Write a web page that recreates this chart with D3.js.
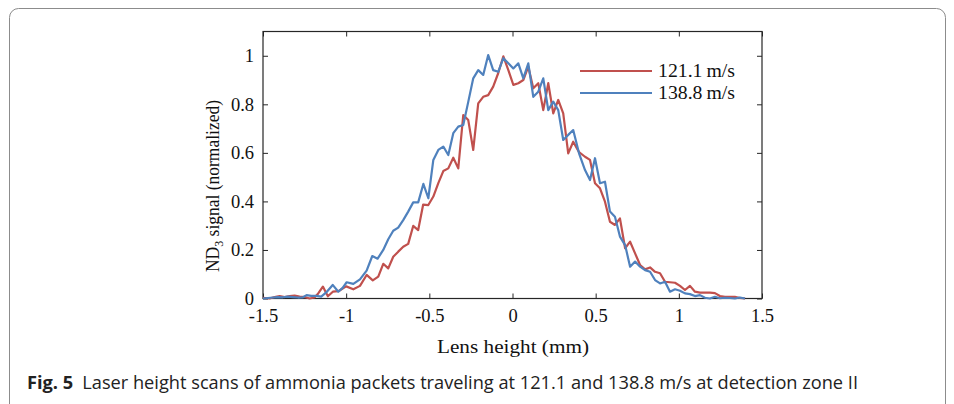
<!DOCTYPE html>
<html>
<head>
<meta charset="utf-8">
<script src="https://cdn.jsdelivr.net/npm/d3@7/dist/d3.min.js"></script>
<style>
  html, body { margin: 0; padding: 0; background: #fff; }
  svg { display: block; }
</style>
</head>
<body>
<svg id="fig" width="954" height="404"></svg>
<script>
// Lens height scan positions (mm) and normalized ND3 signal for each packet speed
const redX = [-1.50,-1.46,-1.43,-1.40,-1.37,-1.34,-1.31,-1.28,-1.25,-1.22,-1.19,-1.168,-1.14,-1.11,-1.08,-1.047,-1.00,-0.957,-0.917,-0.877,-0.84,-0.807,-0.777,-0.747,-0.717,-0.687,-0.657,-0.627,-0.597,-0.567,-0.537,-0.506,-0.476,-0.446,-0.416,-0.386,-0.356,-0.326,-0.296,-0.266,-0.236,-0.206,-0.176,-0.146,-0.116,-0.086,-0.055,-0.025,0.005,0.035,0.065,0.095,0.125,0.155,0.185,0.215,0.245,0.275,0.305,0.335,0.365,0.40,0.436,0.466,0.496,0.526,0.556,0.586,0.616,0.646,0.677,0.707,0.737,0.767,0.797,0.827,0.857,0.887,0.917,0.947,0.977,1.007,1.037,1.067,1.097,1.127,1.157,1.187,1.217,1.247,1.277,1.307,1.337,1.367,1.398];
const redY = [0.003,0.0,0.006,0.010,0.006,0.010,0.012,0.008,0.006,0.0,0.004,0.021,0.049,0.009,0.028,0.030,0.050,0.038,0.052,0.097,0.075,0.090,0.143,0.124,0.172,0.193,0.213,0.225,0.299,0.282,0.387,0.385,0.420,0.475,0.525,0.536,0.580,0.536,0.756,0.735,0.612,0.804,0.831,0.838,0.873,0.928,0.998,0.941,0.880,0.887,0.900,0.955,0.866,0.887,0.776,0.887,0.763,0.818,0.763,0.598,0.646,0.603,0.584,0.571,0.475,0.454,0.399,0.316,0.303,0.330,0.207,0.234,0.186,0.138,0.120,0.128,0.110,0.104,0.069,0.067,0.065,0.052,0.035,0.052,0.028,0.024,0.024,0.024,0.022,0.010,0.007,0.007,0.007,0.002,0.0];

const blueX = [-1.50,-1.47,-1.44,-1.41,-1.38,-1.35,-1.32,-1.29,-1.26,-1.238,-1.21,-1.18,-1.15,-1.12,-1.081,-1.047,-1.02,-0.997,-0.957,-0.917,-0.877,-0.843,-0.811,-0.777,-0.747,-0.717,-0.687,-0.657,-0.627,-0.597,-0.567,-0.536,-0.506,-0.476,-0.446,-0.416,-0.386,-0.356,-0.326,-0.296,-0.266,-0.236,-0.206,-0.176,-0.146,-0.116,-0.086,-0.055,-0.025,0.005,0.035,0.065,0.095,0.125,0.155,0.185,0.215,0.245,0.275,0.305,0.335,0.365,0.40,0.436,0.466,0.496,0.526,0.556,0.586,0.616,0.646,0.677,0.707,0.737,0.767,0.797,0.827,0.857,0.887,0.917,0.947,0.977,1.007,1.037,1.067,1.097,1.127,1.157,1.187,1.217,1.247,1.277,1.307,1.337,1.367,1.398];
const blueY = [0.0,0.002,0.004,0.006,0.005,0.008,0.006,0.004,0.005,0.014,0.011,0.011,0.008,0.025,0.056,0.028,0.045,0.067,0.060,0.079,0.115,0.175,0.164,0.200,0.244,0.279,0.292,0.323,0.358,0.396,0.396,0.472,0.413,0.571,0.612,0.626,0.591,0.681,0.708,0.715,0.810,0.907,0.941,0.921,1.003,0.941,0.934,0.990,0.969,0.948,0.969,0.907,0.969,0.831,0.852,0.907,0.776,0.811,0.776,0.653,0.674,0.694,0.598,0.529,0.488,0.578,0.475,0.481,0.358,0.337,0.255,0.220,0.131,0.152,0.131,0.117,0.110,0.076,0.062,0.069,0.028,0.038,0.032,0.021,0.018,0.010,0.014,0.003,0.0,0.007,0.001,0.003,0.002,0.0,0.004,0.0];

const seriesNames = ["121.1\u2009m/s", "138.8\u2009m/s"];
const seriesColors = ["#c0504d", "#4f81bd"];
const xTicks = [-1.5, -1, -0.5, 0, 0.5, 1, 1.5];
const yTicks = [0, 0.2, 0.4, 0.6, 0.8, 1];
const xLabel = "Lens height (mm)";
const captionBold = "Fig. 5";
const captionText = "Laser height scans of ammonia packets traveling at 121.1 and 138.8 m/s at detection zone II";

const serif = "'Liberation Serif', 'DejaVu Serif', serif";
const sans = "'Open Sans', 'Noto Sans', 'Liberation Sans', sans-serif";

const svg = d3.select("#fig");

// outer figure frame
svg.append("rect")
  .attr("x", 9.5).attr("y", 8.5)
  .attr("width", 936).attr("height", 420)
  .attr("rx", 9).attr("ry", 9)
  .attr("fill", "none").attr("stroke", "#8c8c8c").attr("stroke-width", 1);

const plotL = 263, plotR = 762, plotT = 31.5, plotB = 298.5;
const x = d3.scaleLinear().domain([-1.5, 1.5]).range([plotL, plotR]);
const y = d3.scaleLinear().domain([0, 1.1]).range([plotB, plotT]);

const axisColor = "#262626";
const tickFmt = d => String(d);

function styleAxis(g, showText) {
  g.select(".domain").remove();
  g.selectAll(".tick line").attr("stroke", axisColor).attr("stroke-width", 1);
  g.selectAll(".tick text")
    .attr("fill", "#111")
    .style("font-family", serif)
    .style("font-size", "18.5px");
  if (!showText) g.selectAll(".tick text").remove();
}

// bottom axis, inward ticks
svg.append("g").attr("transform", `translate(0,${plotB})`)
  .call(d3.axisBottom(x).tickValues(xTicks).tickFormat(tickFmt).tickSizeInner(-5).tickSizeOuter(0).tickPadding(10))
  .call(g => styleAxis(g, true));
// top axis
svg.append("g").attr("transform", `translate(0,${plotT})`)
  .call(d3.axisTop(x).tickValues(xTicks).tickSizeInner(-5).tickSizeOuter(0))
  .call(g => styleAxis(g, false));
// left axis
svg.append("g").attr("transform", `translate(${plotL},0)`)
  .call(d3.axisLeft(y).tickValues(yTicks).tickFormat(tickFmt).tickSizeInner(-5).tickSizeOuter(0).tickPadding(9))
  .call(g => styleAxis(g, true));
// right axis
svg.append("g").attr("transform", `translate(${plotR},0)`)
  .call(d3.axisRight(y).tickValues(yTicks).tickSizeInner(-5).tickSizeOuter(0))
  .call(g => styleAxis(g, false));

// plot frame
svg.append("rect")
  .attr("x", plotL).attr("y", plotT)
  .attr("width", plotR - plotL).attr("height", plotB - plotT)
  .attr("fill", "none").attr("stroke", axisColor).attr("stroke-width", 1.2);

// data lines
const line = d3.line().x(d => x(d[0])).y(d => y(d[1]));
const series = [
  d3.zip(redX, redY),
  d3.zip(blueX, blueY)
];
series.forEach((pts, i) => {
  svg.append("path")
    .datum(pts)
    .attr("fill", "none")
    .attr("stroke", seriesColors[i])
    .attr("stroke-width", 2.2)
    .attr("stroke-linejoin", "round")
    .attr("d", line);
});

// legend
const legend = svg.append("g");
seriesNames.forEach((name, i) => {
  const ly = 71 + i * 22;
  legend.append("line")
    .attr("x1", 580).attr("x2", 652).attr("y1", ly).attr("y2", ly)
    .attr("stroke", seriesColors[i]).attr("stroke-width", 2.2);
  legend.append("text")
    .attr("x", 658).attr("y", ly + 6)
    .attr("textLength", 77).attr("lengthAdjust", "spacingAndGlyphs")
    .style("font-family", serif).style("font-size", "19px")
    .attr("fill", "#111")
    .text(name);
});

// axis titles
svg.append("text")
  .attr("x", 437).attr("y", 353)
  .attr("textLength", 152).attr("lengthAdjust", "spacingAndGlyphs")
  .style("font-family", serif).style("font-size", "19px")
  .attr("fill", "#111")
  .text(xLabel);

const yl = svg.append("text")
  .attr("transform", `translate(219,272) rotate(-90)`)
  .attr("textLength", 172).attr("lengthAdjust", "spacingAndGlyphs")
  .style("font-family", serif).style("font-size", "19px")
  .attr("fill", "#111");
yl.append("tspan").text("ND");
yl.append("tspan").attr("dy", 4).style("font-size", "13px").text("3");
yl.append("tspan").attr("dy", -4).text(" signal (normalized)");

// caption
const cap = svg.append("text")
  .attr("x", 27).attr("y", 389)
  .attr("textLength", 831).attr("lengthAdjust", "spacingAndGlyphs")
  .style("font-family", sans).style("font-size", "18px")
  .attr("fill", "#222");
cap.append("tspan").style("font-weight", "bold").text(captionBold);
cap.append("tspan").text("\u2002" + captionText);
</script>
</body>
</html>
